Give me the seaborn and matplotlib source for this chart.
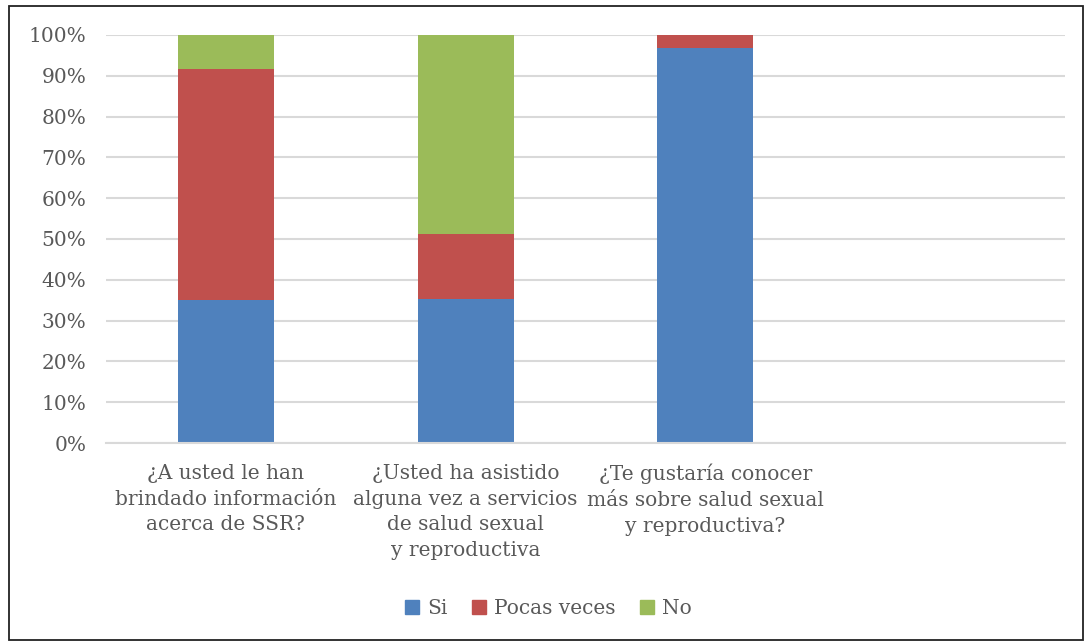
import pandas as pd
import seaborn as sns
import matplotlib.pyplot as plt
from matplotlib.patches import Rectangle, Patch

# ---------------------------- data ----------------------------
preguntas = [
    "¿A usted le han\nbrindado información\nacerca de SSR?",
    "¿Usted ha asistido\nalguna vez a servicios\nde salud sexual\ny reproductiva",
    "¿Te gustaría conocer\nmás sobre salud sexual\ny reproductiva?",
    "",
]
si = [35.1, 35.3, 96.9, 0]
pocas_veces = [56.5, 15.9, 3.1, 0]
no = [8.4, 48.8, 0.0, 0]
series = ["Si", "Pocas veces", "No"]
colores = ["#4f81bd", "#c0504d", "#9bbb59"]

df = pd.DataFrame({"Pregunta": preguntas, "Si": si, "Pocas veces": pocas_veces, "No": no})
df["base_pocas"] = df["Si"]
df["base_no"] = df["Si"] + df["Pocas veces"]

# ---------------------------- plot ----------------------------
sns.set_style("white")
plt.rcParams["font.family"] = ["DejaVu Serif"]
gris = "#595959"
fs = 14.5

fig = plt.figure(figsize=(10.86, 6.44), dpi=100)
ax = fig.add_axes([0.0976, 0.3121, 0.8831, 0.6336])

sns.barplot(data=df, x="Pregunta", y="Si", order=preguntas, color=colores[0],
            width=0.4, ax=ax, saturation=1, linewidth=0)
sns.barplot(data=df, x="Pregunta", y="Pocas veces", order=preguntas, color=colores[1],
            width=0.4, bottom=df["base_pocas"], ax=ax, saturation=1, linewidth=0)
sns.barplot(data=df, x="Pregunta", y="No", order=preguntas, color=colores[2],
            width=0.4, bottom=df["base_no"], ax=ax, saturation=1, linewidth=0)

ax.set_ylim(0, 100)
ax.set_xlim(-0.5, 3.5)
ax.set_yticks(range(0, 101, 10))
ax.set_yticklabels([f"{v}%" for v in range(0, 101, 10)], fontsize=fs, color=gris)
ax.set_xticklabels(preguntas, fontsize=fs, color=gris, linespacing=1.45)
ax.tick_params(axis="y", length=0, pad=14)
ax.tick_params(axis="x", length=0, pad=15)
ax.set_xlabel("")
ax.set_ylabel("")
ax.yaxis.grid(True, color="#d9d9d9", linewidth=1.5)
ax.set_axisbelow(True)
for s in ax.spines.values():
    s.set_visible(False)
ax.spines["bottom"].set_visible(True)
ax.spines["bottom"].set_color("#d9d9d9")
ax.spines["bottom"].set_linewidth(1.5)

handles = [Patch(color=c, label=l) for c, l in zip(colores, series)]
fig.legend(handles=handles, loc="center", bbox_to_anchor=(0.505, 0.055), ncol=3,
           frameon=False, fontsize=fs, labelcolor=gris, handlelength=0.7,
           handleheight=0.7, handletextpad=0.4, columnspacing=1.2)

fig.patches.append(Rectangle((0.008, 0.006), 0.989, 0.985, transform=fig.transFigure,
                             fill=False, edgecolor="#222222", linewidth=1.3))

fig.savefig("out.png", dpi=100)
